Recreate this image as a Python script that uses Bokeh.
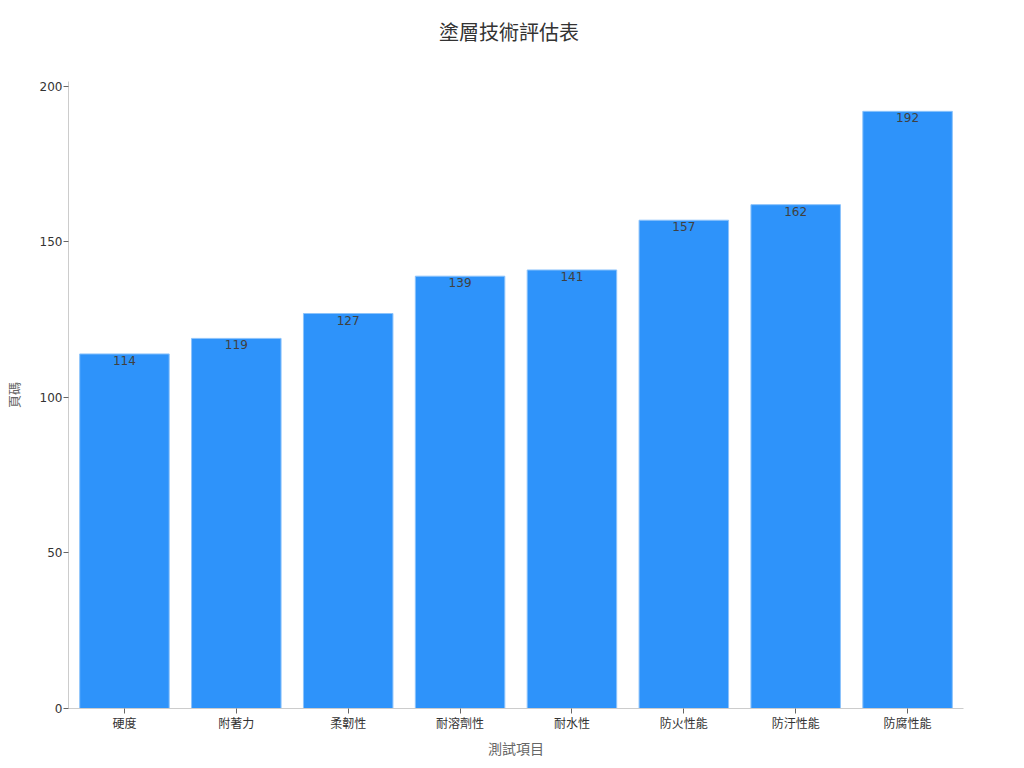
from bokeh.plotting import figure
from bokeh.models import ColumnDataSource, LabelSet, Range1d, FactorRange, Div
from bokeh.layouts import column
from bokeh.core.properties import value
from bokeh.embed import file_html
from bokeh.resources import INLINE

categories = ["硬度", "附著力", "柔韌性", "耐溶劑性", "耐水性", "防火性能", "防汙性能", "防腐性能"]
values = [114, 119, 127, 139, 141, 157, 162, 192]
value_labels = [str(v) for v in values]
y_ticks = [0, 50, 100, 150, 200]
title_text = "塗層技術評估表"

CJK = "Noto Sans CJK TC"

source = ColumnDataSource(data=dict(cat=categories, val=values, lab=value_labels))

title_div = Div(text=title_text, width=1008, height=54,
                styles={"font-size": "20px", "color": "#333333", "font-family": CJK,
                        "text-align": "center", "line-height": "54px", "width": "1008px"})

p = figure(
    x_range=FactorRange(*categories, range_padding=0),
    y_range=Range1d(0, max(values) * 1.05),
    width=1008, height=696,
    output_backend="svg", toolbar_location=None,
    min_border_left=60, min_border_right=45, min_border_bottom=50, min_border_top=17,
)

p.vbar(x="cat", top="val", width=0.8, source=source,
       fill_color="#2E93FA", line_color="#8cc3fb", line_width=1)

labels = LabelSet(x="cat", y="val", text="lab", source=source,
                  text_align="center", text_baseline="top", y_offset=-2,
                  text_font_size="12px", text_color="#404040",
                  text_font=value("DejaVu Sans"))
p.add_layout(labels)

p.xgrid.visible = False
p.ygrid.visible = False
p.outline_line_color = None

p.yaxis.ticker = y_ticks
p.yaxis.axis_label = "頁碼"
p.xaxis.axis_label = "測試項目"
for ax in (p.xaxis, p.yaxis):
    ax.axis_line_color = "#cccccc"
    ax.major_tick_line_color = "#666666"
    ax.major_tick_out = 5
    ax.major_tick_in = 0
    ax.minor_tick_line_color = None
    ax.major_label_text_font_size = "12px"
    ax.major_label_text_color = "#333333"
    ax.axis_label_text_font = CJK
    ax.axis_label_text_font_size = "14px"
    ax.axis_label_text_font_style = "normal"
    ax.axis_label_text_color = "#666666"
p.xaxis.major_label_text_font = CJK
p.yaxis.major_label_text_font = "DejaVu Sans"
p.yaxis.axis_label_text_font_size = "13px"
p.xaxis.major_label_standoff = 0
p.xaxis.axis_label_standoff = 4
p.yaxis.major_label_standoff = 1
p.yaxis.axis_label_standoff = 14

layout = column(title_div, p, spacing=0)

open("out.html", "w").write(file_html(layout, INLINE))
